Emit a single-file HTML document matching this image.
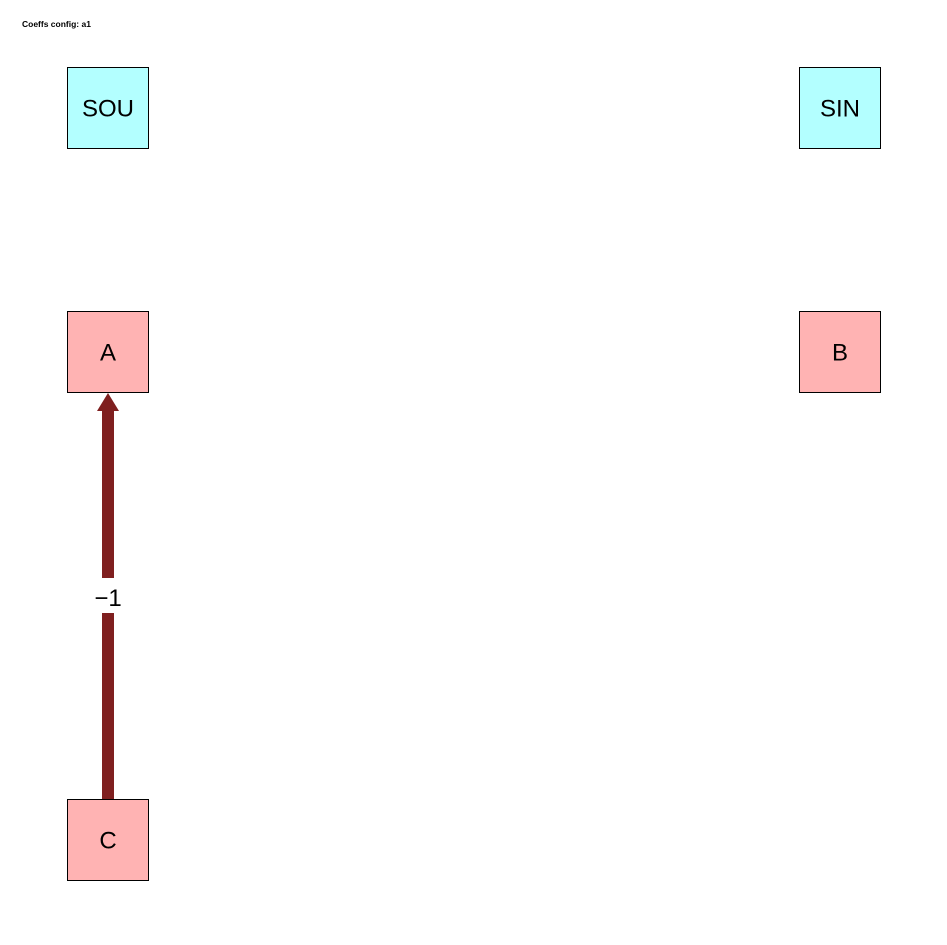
<!DOCTYPE html>
<html><head><meta charset="utf-8"><style>
html,body{margin:0;padding:0;background:#fff;}
svg{display:block;font-family:"Liberation Sans",Arial,sans-serif;}
</style></head><body>
<svg id="chart" width="947" height="945" viewBox="0 0 947 945">
<text x="22" y="27" font-size="8.5" font-weight="bold" fill="#000">Coeffs config: a1</text>
</svg>
<script>
const nodeNames = ["SOU","SIN","A","B","C"];
const nodeCols = [0,1,0,1,0];
const nodeRows = [0,0,1,1,3];
const nodeKinds = ["io","io","var","var","var"];
const edgeFrom = ["C"];
const edgeTo = ["A"];
const edgeValues = ["\u22121"];

const svg = document.getElementById('chart');
const NS = 'http://www.w3.org/2000/svg';
const colX = c => 67 + c * 732;
const rowY = r => r === 3 ? 799 : 67 + r * 244;
const S = 81;
const pos = {};
nodeNames.forEach((n, i) => {
  const x = colX(nodeCols[i]), y = rowY(nodeRows[i]);
  pos[n] = {x, y};
  const g = document.createElementNS(NS, 'g');
  
  
  const r = document.createElementNS(NS, 'rect');
  r.setAttribute('x', x + 0.5); r.setAttribute('y', y + 0.5);
  r.setAttribute('width', S); r.setAttribute('height', S);
  r.setAttribute('fill', nodeKinds[i] === 'io' ? '#b3ffff' : '#ffb3b3');
  r.setAttribute('stroke', '#000'); r.setAttribute('stroke-width', '1');
  g.appendChild(r);
  const t = document.createElementNS(NS, 'text');
  t.setAttribute('x', x + S / 2 + 0.5); t.setAttribute('y', y + S / 2 + 9);
  t.setAttribute('text-anchor', 'middle'); t.setAttribute('font-size', '24');
  t.textContent = n;
  g.appendChild(t);
  svg.appendChild(g);
});
edgeFrom.forEach((f, i) => {
  const a = pos[f], b = pos[edgeTo[i]];
  const cx = a.x + S / 2 + 0.5;
  const y0 = a.y, y1 = b.y + S + 1;
  const g = document.createElementNS(NS, 'g');
  
  
  const mid = (y0 + y1) / 2;
  const l1 = document.createElementNS(NS, 'rect');
  l1.setAttribute('x', cx - 6); l1.setAttribute('y', y1 + 16);
  l1.setAttribute('width', 12); l1.setAttribute('height', (mid - 18) - (y1 + 16));
  l1.setAttribute('fill', '#7f1f1f');
  g.appendChild(l1);
  const l2 = document.createElementNS(NS, 'rect');
  l2.setAttribute('x', cx - 6); l2.setAttribute('y', mid + 17);
  l2.setAttribute('width', 12); l2.setAttribute('height', y0 - (mid + 17));
  l2.setAttribute('fill', '#7f1f1f');
  g.appendChild(l2);
  const h = document.createElementNS(NS, 'polygon');
  h.setAttribute('points', `${cx},${y1} ${cx-11},${y1+18} ${cx+11},${y1+18}`);
  h.setAttribute('fill', '#7f1f1f');
  g.appendChild(h);
  const t = document.createElementNS(NS, 'text');
  t.setAttribute('x', cx); t.setAttribute('y', mid + 10);
  t.setAttribute('text-anchor', 'middle'); t.setAttribute('font-size', '24');
  t.textContent = edgeValues[i];
  g.appendChild(t);
  svg.appendChild(g);
});
</script>
</body></html>
